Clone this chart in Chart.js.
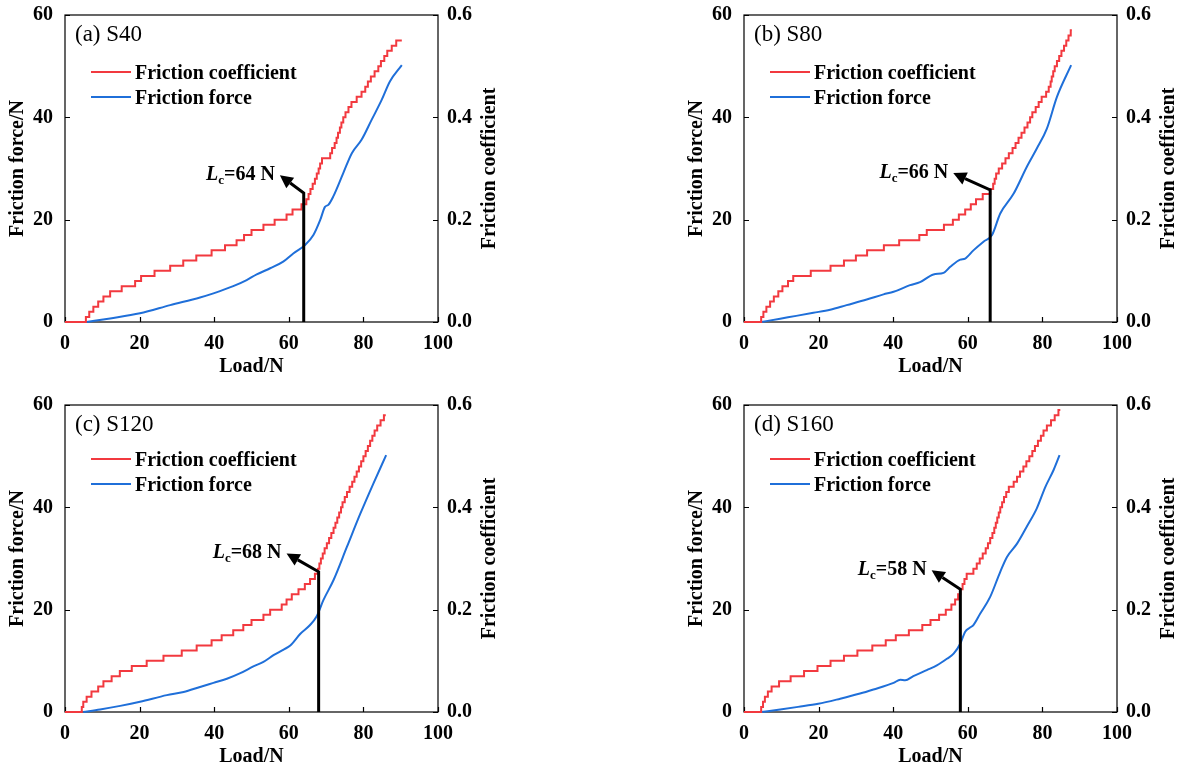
<!DOCTYPE html>
<html>
<head>
<meta charset="utf-8">
<script src="https://cdn.jsdelivr.net/npm/chart.js@4.4.1/dist/chart.umd.min.js"></script>
<style>
  html, body { margin: 0; padding: 0; background: #fff; width: 1183px; height: 769px; overflow: hidden; }
  canvas { position: absolute; }
</style>
</head>
<body>
<canvas id="panelA" width="500" height="378" style="left:0px;top:0px"></canvas>
<canvas id="panelB" width="500" height="378" style="left:679px;top:0px"></canvas>
<canvas id="panelC" width="500" height="378" style="left:0px;top:390px"></canvas>
<canvas id="panelD" width="500" height="378" style="left:679px;top:390px"></canvas>
<script>
// Axis ticks shared by all four scratch tests
const loadTicks = [0, 20, 40, 60, 80, 100];
const forceTicks = [0, 20, 40, 60];
const coefTicks = [0.0, 0.2, 0.4, 0.6];

const panelTitles = ['(a) S40', '(b) S80', '(c) S120', '(d) S160'];
const criticalLoads = [64, 66, 68, 58];
// leader line: bend point (coefficient units) and arrow tip (load, coefficient)
const leaderBendCoef = [0.252, 0.258, 0.274, 0.240];
const leaderTipLoad = [57.6, 56.1, 59.4, 50.3];
const leaderTipCoef = [0.287, 0.291, 0.310, 0.277];

// S40: stepped friction coefficient and friction force vs. load
const s40CoefLoad = [0, 5.6, 6.5, 7.6, 8.9, 10.3, 12.1, 15.2, 18.8, 20.4, 24, 28.2, 31.7, 35.2, 39.3, 42.9, 46, 48, 50, 53.2, 56.2, 59.4, 61, 63.4, 64.7, 65.3, 65.8, 66.4, 67, 67.5, 68, 68.4, 68.9, 71.1, 71.6, 72.3, 72.8, 73.2, 73.7, 74.1, 74.6, 75.2, 76, 76.8, 78.2, 79.5, 80.5, 81.2, 82, 83, 84, 84.7, 85.6, 86.4, 87.6, 88.8, 90.3];
const s40Coef = [0, 0.01, 0.02, 0.03, 0.04, 0.05, 0.06, 0.07, 0.08, 0.09, 0.10, 0.11, 0.12, 0.13, 0.14, 0.15, 0.16, 0.17, 0.18, 0.19, 0.20, 0.21, 0.22, 0.23, 0.24, 0.25, 0.26, 0.27, 0.28, 0.29, 0.30, 0.31, 0.32, 0.33, 0.34, 0.35, 0.36, 0.37, 0.38, 0.39, 0.40, 0.41, 0.42, 0.43, 0.44, 0.45, 0.46, 0.47, 0.48, 0.49, 0.50, 0.51, 0.52, 0.53, 0.54, 0.55, 0.55];
const s40ForceLoad = [5.8, 12.1, 20.1, 28.2, 36.2, 39.8, 45.1, 48.7, 51.4, 55, 58.5, 61.2, 64.3, 66.6, 68.4, 69.7, 70.6, 71.9, 74.6, 76.9, 79.5, 82.2, 84.9, 87.1, 90.3];
const s40Force = [0, 0.7, 1.7, 3.3, 4.8, 5.6, 7.0, 8.2, 9.3, 10.5, 11.8, 13.4, 15.0, 17.0, 19.9, 22.5, 22.9, 24.5, 29.1, 33.0, 35.6, 39.5, 43.4, 47.0, 50.2];

// S80
const s80CoefLoad = [0, 4.6, 5.2, 6.0, 7.0, 8.0, 9.2, 10.3, 11.8, 13.2, 17.9, 23.2, 26.8, 30, 33, 37.5, 41.6, 47, 49, 53.6, 56, 57.6, 59.3, 60.8, 62.2, 64, 66, 66.8, 67.2, 67.6, 68.3, 69.2, 70.1, 71, 72, 72.8, 73.6, 74.4, 75.2, 76, 76.7, 77.3, 78.2, 79, 79.8, 81, 81.7, 82.2, 82.5, 82.9, 83.3, 83.9, 84.5, 85.1, 85.8, 86.4, 87, 87.6, 87.9];
const s80Coef = [0, 0.01, 0.02, 0.03, 0.04, 0.05, 0.06, 0.07, 0.08, 0.09, 0.10, 0.11, 0.12, 0.13, 0.14, 0.15, 0.16, 0.17, 0.18, 0.19, 0.20, 0.21, 0.22, 0.23, 0.24, 0.25, 0.26, 0.27, 0.28, 0.29, 0.30, 0.31, 0.32, 0.33, 0.34, 0.35, 0.36, 0.37, 0.38, 0.39, 0.40, 0.41, 0.42, 0.43, 0.44, 0.45, 0.46, 0.47, 0.48, 0.49, 0.50, 0.51, 0.52, 0.53, 0.54, 0.55, 0.56, 0.57, 0.57];
const s80ForceLoad = [4.7, 9.7, 14, 18.6, 23.1, 27.5, 32.9, 37.4, 40.1, 44.5, 47.2, 50.8, 53.5, 55.3, 58, 59.3, 61.5, 64.2, 66.5, 68.7, 72.3, 75.8, 78.5, 81.2, 83.9, 87.7];
const s80Force = [0, 0.65, 1.2, 1.8, 2.4, 3.3, 4.4, 5.4, 5.9, 7.2, 7.8, 9.3, 9.6, 10.8, 12.2, 12.4, 14.0, 15.7, 17.0, 21.2, 25.1, 30.3, 33.9, 37.8, 44.0, 50.2];

// S120
const s120CoefLoad = [0, 4.5, 4.9, 5.8, 7.1, 8.9, 10.3, 12.5, 14.7, 17.9, 21.9, 26.4, 31.3, 35.3, 39.3, 42, 45.1, 47.8, 50, 53.2, 55, 58.1, 59.4, 60.8, 62.6, 64.3, 65.7, 67, 67.8, 68.2, 68.6, 69.1, 69.6, 70.2, 70.8, 71.4, 72, 72.5, 73, 73.5, 74, 74.4, 75, 75.6, 76.3, 77, 77.6, 78.2, 78.8, 79.4, 80, 80.6, 81.2, 81.8, 82.4, 83, 83.7, 84.6, 85.5, 86];
const s120Coef = [0, 0.01, 0.02, 0.03, 0.04, 0.05, 0.06, 0.07, 0.08, 0.09, 0.10, 0.11, 0.12, 0.13, 0.14, 0.15, 0.16, 0.17, 0.18, 0.19, 0.20, 0.21, 0.22, 0.23, 0.24, 0.25, 0.26, 0.27, 0.28, 0.29, 0.30, 0.31, 0.32, 0.33, 0.34, 0.35, 0.36, 0.37, 0.38, 0.39, 0.40, 0.41, 0.42, 0.43, 0.44, 0.45, 0.46, 0.47, 0.48, 0.49, 0.50, 0.51, 0.52, 0.53, 0.54, 0.55, 0.56, 0.57, 0.58, 0.58];
const s120ForceLoad = [4.9, 9.4, 14.8, 20.1, 27.3, 31.8, 36.2, 39.8, 43.4, 47, 50.5, 53.2, 55.9, 58.6, 60.4, 63.1, 65.7, 67.4, 69.3, 72, 75.6, 79.2, 82.7, 86.1];
const s120Force = [0, 0.5, 1.2, 2.0, 3.3, 3.9, 4.9, 5.7, 6.5, 7.6, 8.9, 9.8, 11.1, 12.2, 13.0, 15.3, 17.0, 18.6, 21.9, 25.8, 32.3, 38.8, 44.7, 50.2];

// S160
const s160CoefLoad = [0, 4.6, 5.1, 5.6, 6.4, 7.4, 9.4, 12.5, 16.1, 19.7, 23.2, 26.8, 30.4, 34.4, 38, 40.7, 44.2, 47.8, 50, 52.3, 54.1, 55.6, 56.6, 57.4, 58.0, 58.6, 59.1, 59.7, 61.5, 62.4, 63.2, 64, 64.8, 65.4, 66, 66.6, 67.1, 67.5, 67.9, 68.3, 68.7, 69.2, 69.7, 70.3, 71, 72.3, 73.2, 74, 74.9, 75.7, 76.5, 77.3, 78, 78.8, 79.6, 80.3, 81.2, 82.3, 83.3, 84.3, 84.8];
const s160Coef = [0, 0.01, 0.02, 0.03, 0.04, 0.05, 0.06, 0.07, 0.08, 0.09, 0.10, 0.11, 0.12, 0.13, 0.14, 0.15, 0.16, 0.17, 0.18, 0.19, 0.20, 0.21, 0.22, 0.23, 0.24, 0.25, 0.26, 0.27, 0.28, 0.29, 0.30, 0.31, 0.32, 0.33, 0.34, 0.35, 0.36, 0.37, 0.38, 0.39, 0.40, 0.41, 0.42, 0.43, 0.44, 0.45, 0.46, 0.47, 0.48, 0.49, 0.50, 0.51, 0.52, 0.53, 0.54, 0.55, 0.56, 0.57, 0.58, 0.59, 0.59];
const s160ForceLoad = [4.7, 9.7, 14.5, 19.9, 25.8, 31.1, 34.7, 40.1, 41.9, 43.2, 45.4, 49, 51.7, 54.4, 56.2, 58, 59.3, 60.6, 61.5, 63.3, 66, 68.7, 70.5, 73.2, 75.8, 78.5, 80.8, 83, 84.6];
const s160Force = [0, 0.5, 1.0, 1.6, 2.6, 3.6, 4.4, 5.7, 6.3, 6.2, 7.0, 8.2, 9.1, 10.4, 11.4, 13.4, 15.7, 16.5, 17.0, 19.2, 22.5, 27.4, 30.3, 32.9, 36.2, 39.8, 44.0, 47.3, 50.2];

const RED = '#f2393f';
const BLUE = '#1f6fd9';
const SERIF = "'Liberation Serif', 'Times New Roman', serif";

function pairs(xs, ys) {
  return xs.map((x, i) => ({ x: x, y: ys[i] }));
}

// Plot frame and inward ticks go under the curves; the rest is drawn on top
const panelDecor = {
  id: 'panelDecor',
  beforeDatasetsDraw(chart) {
    const { ctx, chartArea: a, scales } = chart;
    const x = scales.x, y = scales.y, y1 = scales.y1;
    ctx.save();
    ctx.strokeStyle = '#000';
    ctx.lineWidth = 1.2;
    ctx.strokeRect(a.left, a.top, a.right - a.left, a.bottom - a.top);
    const tl = 5;
    ctx.beginPath();
    loadTicks.forEach(v => {
      const px = Math.round(x.getPixelForValue(v)) + 0.5;
      ctx.moveTo(px, a.bottom); ctx.lineTo(px, a.bottom - tl);
    });
    forceTicks.forEach(v => {
      const py = Math.round(y.getPixelForValue(v)) + 0.5;
      ctx.moveTo(a.left, py); ctx.lineTo(a.left + tl, py);
    });
    coefTicks.forEach(v => {
      const py = Math.round(y1.getPixelForValue(v)) + 0.5;
      ctx.moveTo(a.right, py); ctx.lineTo(a.right - tl, py);
    });
    ctx.stroke();
    ctx.restore();
  },
  afterDatasetsDraw(chart, args, opts) {
    const { ctx, chartArea: a, scales } = chart;
    const x = scales.x, y1 = scales.y1;
    ctx.save();
    ctx.fillStyle = '#000';
    const midY = (a.top + a.bottom) / 2;

    // axis titles
    ctx.font = `bold 20px ${SERIF}`;
    ctx.textAlign = 'center';
    ctx.textBaseline = 'middle';
    ctx.fillText('Load/N', (a.left + a.right) / 2, a.bottom + 45);
    [[17.5, 'Friction force/N'], [a.right + 52, 'Friction coefficient']].forEach(([cx, txt]) => {
      ctx.save();
      ctx.translate(cx, midY);
      ctx.rotate(-Math.PI / 2);
      ctx.fillText(txt, 0, 0);
      ctx.restore();
    });

    // panel label
    ctx.font = `23px ${SERIF}`;
    ctx.textAlign = 'left';
    ctx.textBaseline = 'alphabetic';
    ctx.fillText(opts.title, a.left + 10, a.top + 26);

    // legend
    chart.data.datasets.forEach((ds, i) => {
      const ly = a.top + opts.legendTop + i * 25;
      ctx.strokeStyle = ds.borderColor;
      ctx.lineWidth = 2;
      ctx.beginPath();
      ctx.moveTo(a.left + 26, ly); ctx.lineTo(a.left + 66, ly);
      ctx.stroke();
      ctx.font = `bold 20px ${SERIF}`;
      ctx.fillText(ds.label, a.left + 70, ly + 6.5);
    });

    // critical load leader with arrow
    const lx = x.getPixelForValue(opts.lc);
    const bendY = y1.getPixelForValue(opts.bendCoef);
    const tipX = x.getPixelForValue(opts.tipLoad);
    const tipY = y1.getPixelForValue(opts.tipCoef);
    const ang = Math.atan2(tipY - bendY, tipX - lx);
    const headLen = 13, headW = 6.5;
    const bx = tipX - headLen * Math.cos(ang), by = tipY - headLen * Math.sin(ang);
    ctx.strokeStyle = '#000';
    ctx.lineWidth = 3;
    ctx.lineJoin = 'miter';
    ctx.beginPath();
    ctx.moveTo(lx, a.bottom);
    ctx.lineTo(lx, bendY);
    ctx.lineTo(bx, by);
    ctx.stroke();
    ctx.beginPath();
    ctx.moveTo(tipX, tipY);
    ctx.lineTo(bx + headW * Math.sin(ang), by - headW * Math.cos(ang));
    ctx.lineTo(bx - headW * Math.sin(ang), by + headW * Math.cos(ang));
    ctx.closePath();
    ctx.fill();

    // "Lc=.. N" label, right-aligned just left of the arrow tip
    const fMain = `bold 20px ${SERIF}`, fItal = `italic bold 20px ${SERIF}`, fSub = `bold 13px ${SERIF}`;
    const rest = '=' + opts.lc + ' N';
    ctx.font = fItal; const wL = ctx.measureText('L').width;
    ctx.font = fSub; const wc = ctx.measureText('c').width;
    ctx.font = fMain; const wr = ctx.measureText(rest).width;
    const baseY = tipY + 4.5;
    let tx = tipX - 5 - (wL + wc + wr);
    ctx.textAlign = 'left';
    ctx.textBaseline = 'alphabetic';
    ctx.font = fItal; ctx.fillText('L', tx, baseY); tx += wL;
    ctx.font = fSub; ctx.fillText('c', tx, baseY + 4); tx += wc;
    ctx.font = fMain; ctx.fillText(rest, tx, baseY);

    ctx.restore();
  }
};

function fixBox(w, h) {
  return s => {
    if (w !== null) s.width = w;
    if (h !== null) s.height = h;
    s.paddingTop = 0; s.paddingBottom = 0; s.paddingLeft = 0; s.paddingRight = 0;
  };
}

function makePanel(canvasId, idx, coefLoad, coef, forceLoad, force) {
  const tickFont = { family: SERIF, size: 20, weight: 'bold', lineHeight: 1.2 };
  new Chart(document.getElementById(canvasId), {
    type: 'line',
    data: {
      datasets: [
        {
          label: 'Friction coefficient',
          data: pairs(coefLoad, coef),
          yAxisID: 'y1',
          borderColor: RED,
          borderWidth: 2,
          stepped: 'before',
          pointRadius: 0,
          clip: 3,
          fill: false
        },
        {
          label: 'Friction force',
          data: pairs(forceLoad, force),
          yAxisID: 'y',
          borderColor: BLUE,
          borderWidth: 2,
          cubicInterpolationMode: 'monotone',
          pointRadius: 0,
          clip: 3,
          fill: false
        }
      ]
    },
    options: {
      responsive: false,
      animation: false,
      devicePixelRatio: 1,
      layout: { padding: { top: 15, left: 0, right: 0, bottom: 0 } },
      plugins: {
        legend: { display: false },
        tooltip: { enabled: false },
        panelDecor: {
          title: panelTitles[idx],
          lc: criticalLoads[idx],
          bendCoef: leaderBendCoef[idx],
          tipLoad: leaderTipLoad[idx],
          tipCoef: leaderTipCoef[idx],
          legendTop: idx < 2 ? 57 : 54
        }
      },
      scales: {
        x: {
          type: 'linear',
          min: 0, max: 100,
          grid: { display: false, drawTicks: false },
          border: { display: false },
          afterBuildTicks: s => { s.ticks = loadTicks.map(v => ({ value: v })); },
          afterFit: fixBox(null, 56),
          ticks: { color: '#000', font: tickFont, padding: 10, maxRotation: 0, callback: v => String(v) }
        },
        y: {
          type: 'linear',
          position: 'left',
          min: 0, max: 60,
          grid: { display: false, drawTicks: false },
          border: { display: false },
          afterBuildTicks: s => { s.ticks = forceTicks.map(v => ({ value: v })); },
          afterFit: fixBox(65, null),
          ticks: { color: '#000', font: tickFont, padding: 12, callback: v => String(v) }
        },
        y1: {
          type: 'linear',
          position: 'right',
          min: 0, max: 0.6,
          grid: { display: false, drawTicks: false },
          border: { display: false },
          afterBuildTicks: s => { s.ticks = coefTicks.map(v => ({ value: v })); },
          afterFit: fixBox(62, null),
          ticks: { color: '#000', font: tickFont, padding: 9, callback: v => Number(v).toFixed(1) }
        }
      }
    },
    plugins: [panelDecor]
  });
}

makePanel('panelA', 0, s40CoefLoad, s40Coef, s40ForceLoad, s40Force);
makePanel('panelB', 1, s80CoefLoad, s80Coef, s80ForceLoad, s80Force);
makePanel('panelC', 2, s120CoefLoad, s120Coef, s120ForceLoad, s120Force);
makePanel('panelD', 3, s160CoefLoad, s160Coef, s160ForceLoad, s160Force);
</script>
</body>
</html>
